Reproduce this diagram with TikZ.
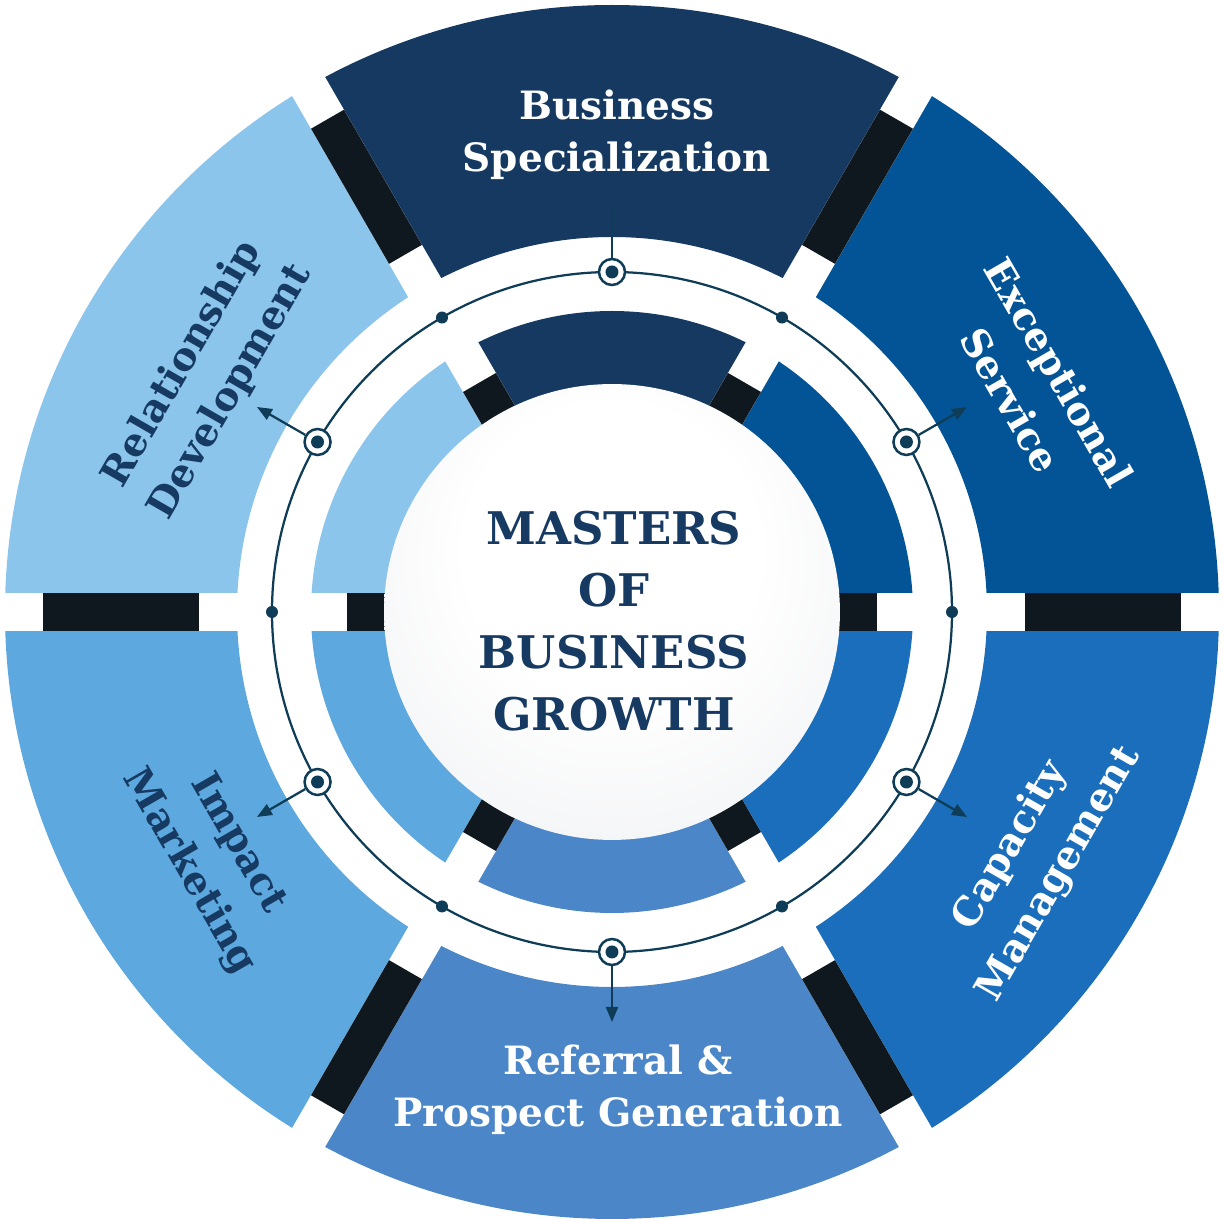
\documentclass[tikz,border=0pt]{standalone}
\usepackage{fontspec}
\setmainfont{DejaVu Serif}
\usetikzlibrary{arrows.meta}

\definecolor{segA}{RGB}{21,57,97}
\definecolor{segB}{RGB}{3,84,150}
\definecolor{segC}{RGB}{26,110,187}
\definecolor{segD}{RGB}{75,135,200}
\definecolor{segE}{RGB}{93,168,222}
\definecolor{segF}{RGB}{139,197,236}
\definecolor{barcol}{RGB}{14,24,30}
\definecolor{linecol}{RGB}{15,61,87}
\definecolor{navytext}{RGB}{22,58,98}
\definecolor{sphereedge}{RGB}{180,187,197}

\pgfdeclareradialshading{sphere}{\pgfpoint{0bp}{10bp}}{color(0bp)=(white); color(16bp)=(white); color(34bp)=(white!82!sphereedge); color(50bp)=(sphereedge)}

\begin{document}
\begin{tikzpicture}[x=0.02cm, y=0.02cm,
		gap/.style={white, line width=0.76cm},
		bar/.style={barcol, line width=0.76cm},
		ring/.style={linecol, line width=0.045cm},
		marker/.style={circle, draw=linecol, fill=white, line width=0.05cm, minimum size=0.52cm, inner sep=0pt,
			path picture={\fill[linecol] (path picture bounding box.center) circle[radius=6.5];}},
		dot/.style={circle, fill=linecol, minimum size=0.24cm, inner sep=0pt},
		conn/.style={linecol, line width=0.045cm, -{Triangle[length=0.3cm, width=0.24cm]}},
		segtext/.style={font=\bfseries\fontsize{22.2}{29.6}\selectfont, align=center},
		sidetext/.style={font=\bfseries\fontsize{22.2}{32}\selectfont, align=center}]
	\useasboundingbox (-612,-607) rectangle (613,612);
	
	% outer ring
	\fill[segA] (60:607) arc[start angle=60, end angle=120, radius=607] -- (120:375) arc[start angle=120, end angle=60, radius=375] -- cycle;
	\fill[segB] (0:607) arc[start angle=0, end angle=60, radius=607] -- (60:375) arc[start angle=60, end angle=0, radius=375] -- cycle;
	\fill[segC] (-60:607) arc[start angle=-60, end angle=0, radius=607] -- (0:375) arc[start angle=0, end angle=-60, radius=375] -- cycle;
	\fill[segD] (-120:607) arc[start angle=-120, end angle=-60, radius=607] -- (-60:375) arc[start angle=-60, end angle=-120, radius=375] -- cycle;
	\fill[segE] (180:607) arc[start angle=180, end angle=240, radius=607] -- (240:375) arc[start angle=240, end angle=180, radius=375] -- cycle;
	\fill[segF] (120:607) arc[start angle=120, end angle=180, radius=607] -- (180:375) arc[start angle=180, end angle=120, radius=375] -- cycle;
	
	% inner ring
	\fill[segA] (60:301) arc[start angle=60, end angle=120, radius=301] -- (120:200) arc[start angle=120, end angle=60, radius=200] -- cycle;
	\fill[segB] (0:301) arc[start angle=0, end angle=60, radius=301] -- (60:200) arc[start angle=60, end angle=0, radius=200] -- cycle;
	\fill[segC] (-60:301) arc[start angle=-60, end angle=0, radius=301] -- (0:200) arc[start angle=0, end angle=-60, radius=200] -- cycle;
	\fill[segD] (-120:301) arc[start angle=-120, end angle=-60, radius=301] -- (-60:200) arc[start angle=-60, end angle=-120, radius=200] -- cycle;
	\fill[segE] (180:301) arc[start angle=180, end angle=240, radius=301] -- (240:200) arc[start angle=240, end angle=180, radius=200] -- cycle;
	\fill[segF] (120:301) arc[start angle=120, end angle=180, radius=301] -- (180:200) arc[start angle=180, end angle=120, radius=200] -- cycle;
	
	% gaps and dark bars
	\draw[gap] (0:620) -- (180:620);
	\draw[gap] (60:620) -- (240:620);
	\draw[gap] (120:620) -- (300:620);
	\draw[bar] (0:413) -- (0:569);
	\draw[bar] (60:413) -- (60:569);
	\draw[bar] (120:413) -- (120:569);
	\draw[bar] (180:413) -- (180:569);
	\draw[bar] (240:413) -- (240:569);
	\draw[bar] (300:413) -- (300:569);
	\draw[bar] (0:190) -- (0:265);
	\draw[bar] (60:190) -- (60:265);
	\draw[bar] (120:190) -- (120:265);
	\draw[bar] (180:190) -- (180:265);
	\draw[bar] (240:190) -- (240:265);
	\draw[bar] (300:190) -- (300:265);
	
	\node[circle, shade, shading=sphere, minimum size=9.12cm, inner sep=0pt] (core) at (0,0) {};
	\node[font=\bfseries\fontsize{25.6}{35.3}\selectfont, text=navytext, align=center] (title) at (2,-9) {MASTERS\\OF\\BUSINESS\\GROWTH};
	
	% thin ring with dots and markers
	\draw[ring] (0,0) circle[radius=340];
	\node[dot] (d0) at (0:340) {};
	\node[dot] (d60) at (60:340) {};
	\node[dot] (d120) at (120:340) {};
	\node[dot] (d180) at (180:340) {};
	\node[dot] (d240) at (240:340) {};
	\node[dot] (d300) at (300:340) {};
	
	\node[marker] (m30) at (30:340) {};
	\node[marker] (m90) at (90:340) {};
	\node[marker] (m150) at (150:340) {};
	\node[marker] (m210) at (210:340) {};
	\node[marker] (m270) at (270:340) {};
	\node[marker] (m330) at (330:340) {};
	
	\coordinate (t30) at (30:410);
	\coordinate (t90) at (90:407);
	\coordinate (t150) at (150:410);
	\coordinate (t210) at (210:410);
	\coordinate (t270) at (270:410);
	\coordinate (t330) at (330:410);
	
	\draw[conn] (m30) -- (t30);
	\draw[ring] (m90) -- (t90);
	\draw[conn] (m150) -- (t150);
	\draw[conn] (m210) -- (t210);
	\draw[conn] (m270) -- (t270);
	\draw[conn] (m330) -- (t330);
	
	% segment titles
	\node[segtext, text=white] (s90) at (5,477) {Business\\Specialization};
	\node[sidetext, text=white, rotate=-60] (s30) at (423,226) {Exceptional\\Service};
	\node[sidetext, text=white, rotate=60] (s330) at (423,-248) {Capacity\\Management};
	\node[segtext, text=white] (s270) at (6,-478) {Referral \&\\Prospect Generation};
	\node[sidetext, text=navytext, rotate=-60] (s210) at (-399,-246) {Impact\\Marketing};
	\node[sidetext, text=navytext, rotate=60] (s150) at (150:468) {Relationship\\Development};
\end{tikzpicture}
\end{document}
